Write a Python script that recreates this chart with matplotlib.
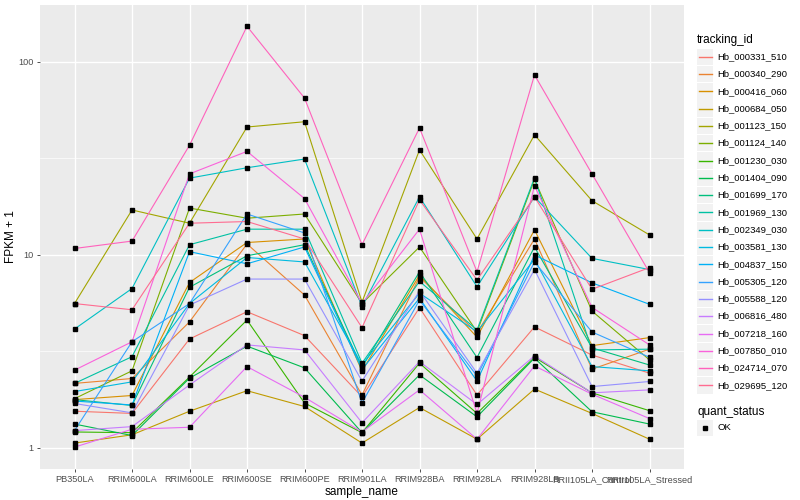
import matplotlib
matplotlib.use("Agg")
import matplotlib.pyplot as plt
from matplotlib.patches import Rectangle
from matplotlib.lines import Line2D

plt.rcParams['font.family'] = ['Liberation Sans', 'DejaVu Sans']

samples = ['PB350LA', 'RRIM600LA', 'RRIM600LE', 'RRIM600SE', 'RRIM600PE',
           'RRIM901LA', 'RRIM928BA', 'RRIM928LA', 'RRIM928LB',
           'RRII105LA_Control', 'RRII105LA_Stressed']

# FPKM + 1 per tracking id
hb_000331_510 = [1.55, 1.51, 3.67, 5.08, 3.82, 1.84, 5.33, 1.88, 4.24, 3.03, 2.44]
hb_000340_290 = [2.16, 2.29, 4.5, 11.4, 6.2, 1.88, 7.7, 3.94, 12.1, 2.56, 3.25]
hb_000416_060 = [1.78, 1.87, 7.2, 11.6, 12.1, 2.5, 7.87, 3.75, 13.5, 3.39, 3.73]
hb_000684_050 = [1.06, 1.17, 1.55, 1.98, 1.64, 1.06, 1.62, 1.11, 2.02, 1.51, 1.11]
hb_001123_150 = [5.6, 17.1, 14.6, 46.0, 49.0, 5.7, 35.0, 12.1, 41.9, 19.1, 12.7]
hb_001124_140 = [1.8, 2.51, 17.5, 15.5, 16.3, 5.6, 11.0, 4.0, 24.6, 5.12, 2.86]
hb_001230_030 = [1.21, 1.2, 2.33, 4.6, 1.71, 1.2, 2.75, 1.51, 2.95, 1.93, 1.56]
hb_001404_090 = [1.33, 1.16, 2.3, 3.37, 2.6, 1.2, 2.39, 1.45, 2.92, 1.54, 1.33]
hb_001699_170 = [1.78, 1.66, 6.8, 9.9, 11.3, 2.62, 8.18, 2.94, 11.0, 3.3, 2.69]
hb_001969_130 = [2.16, 2.97, 11.3, 13.6, 13.6, 2.75, 7.3, 4.09, 25.1, 3.22, 3.25]
hb_002349_030 = [4.13, 6.7, 25.0, 28.3, 31.4, 5.4, 20.0, 6.84, 20.0, 9.6, 8.4]
hb_003581_130 = [1.96, 2.2, 5.6, 9.7, 9.2, 2.7, 6.34, 4.0, 9.5, 2.64, 2.51]
hb_004837_150 = [1.75, 1.67, 10.4, 9.0, 11.0, 2.55, 5.97, 2.22, 10.0, 7.17, 5.55]
hb_005305_120 = [1.23, 3.55, 5.6, 16.3, 13.0, 1.71, 5.84, 2.36, 9.2, 3.99, 2.95]
hb_005588_120 = [1.7, 1.52, 5.5, 7.5, 7.5, 2.22, 6.5, 2.44, 8.4, 2.08, 2.21]
hb_006816_480 = [1.23, 1.29, 2.12, 3.42, 3.22, 1.35, 2.8, 1.68, 3.0, 1.93, 2.0]
hb_007218_160 = [1.01, 1.25, 1.28, 2.64, 1.83, 1.21, 2.0, 1.11, 2.66, 1.9, 1.42]
hb_007850_010 = [2.53, 3.55, 26.3, 34.4, 19.6, 5.6, 13.6, 1.51, 22.8, 5.35, 3.42]
hb_024714_070 = [10.8, 11.8, 37.0, 153.0, 65.0, 11.3, 45.5, 8.18, 85.6, 26.3, 8.1]
hb_029695_120 = [5.6, 5.2, 14.6, 14.9, 12.1, 4.2, 19.3, 7.42, 20.0, 6.64, 8.6]

tracking_ids = ['Hb_000331_510', 'Hb_000340_290', 'Hb_000416_060', 'Hb_000684_050',
                'Hb_001123_150', 'Hb_001124_140', 'Hb_001230_030', 'Hb_001404_090',
                'Hb_001699_170', 'Hb_001969_130', 'Hb_002349_030', 'Hb_003581_130',
                'Hb_004837_150', 'Hb_005305_120', 'Hb_005588_120', 'Hb_006816_480',
                'Hb_007218_160', 'Hb_007850_010', 'Hb_024714_070', 'Hb_029695_120']
series = [hb_000331_510, hb_000340_290, hb_000416_060, hb_000684_050,
          hb_001123_150, hb_001124_140, hb_001230_030, hb_001404_090,
          hb_001699_170, hb_001969_130, hb_002349_030, hb_003581_130,
          hb_004837_150, hb_005305_120, hb_005588_120, hb_006816_480,
          hb_007218_160, hb_007850_010, hb_024714_070, hb_029695_120]

# ggplot2 default hue palette for 20 levels
colors = ['#F8766D', '#EA8331', '#D89000', '#C09B00', '#A3A500', '#7CAE00',
          '#39B600', '#00BB4E', '#00BF7D', '#00C1A3', '#00BFC4', '#00BAE0',
          '#00B0F6', '#35A2FF', '#9590FF', '#C77CFF', '#E76BF3', '#FA62DB',
          '#FF62BC', '#FF6C91']

W, H = 800, 500
fig = plt.figure(figsize=(8, 5), dpi=100)
ax = fig.add_axes([40 / W, 1 - 469 / H, (684 - 40) / W, (469 - 5) / H])
ax.set_facecolor('#EBEBEB')

x = list(range(len(samples)))
for vals, col in zip(series, colors):
    ax.plot(x, vals, color=col, lw=0.8, zorder=3)
for vals in series:
    ax.plot(x, vals, ls='none', marker='s', ms=2.2, color='black', zorder=4)

ax.set_yscale('log')
ax.set_ylim(10 ** -0.109, 10 ** 2.295)
ax.set_xlim(-0.6, len(samples) - 0.4)
ax.set_yticks([1, 10, 100])
ax.set_yticklabels(['1', '10', '100'])
ax.set_yticks([10 ** 0.5, 10 ** 1.5], minor=True)
ax.set_yticklabels([], minor=True)
ax.set_xticks(x)
ax.set_xticklabels(samples)
ax.tick_params(axis='y', which='minor', length=0)
ax.tick_params(which='major', length=2.5, width=0.6, color='#333333',
               labelsize=6.6, labelcolor='#4D4D4D', pad=2)
ax.grid(which='major', color='white', lw=1.0, zorder=0)
ax.grid(which='minor', axis='y', color='white', lw=0.5, zorder=0)
ax.set_axisbelow(True)
for sp in ax.spines.values():
    sp.set_visible(False)

ax.set_xlabel('sample_name', fontsize=8.5, labelpad=1)
ax.set_ylabel('FPKM + 1', fontsize=8.5)
ax.yaxis.set_label_coords(-0.035, 0.5)

# legend drawn by hand in pixel coordinates to copy the ggplot guide
def fx(px):
    return px / W

def fy(py):
    return 1 - py / H

fig.text(fx(697), fy(40), 'tracking_id', fontsize=8.5, va='center', ha='left')
for i, (tid, col) in enumerate(zip(tracking_ids, colors)):
    yc = 56.7 + i * 17.3
    fig.add_artist(Rectangle((fx(697), fy(yc + 8.2)), 16 / W, 16.4 / H,
                             transform=fig.transFigure, facecolor='#F2F2F2',
                             edgecolor='none', zorder=1))
    fig.add_artist(Line2D([fx(698.5), fx(711.5)], [fy(yc), fy(yc)],
                          transform=fig.transFigure, color=col, lw=1.0,
                          zorder=5))
    fig.text(fx(717), fy(yc), tid, fontsize=6.8, va='center', ha='left')

fig.text(fx(697), fy(412), 'quant_status', fontsize=8.5, va='center', ha='left')
fig.add_artist(Rectangle((fx(697), fy(428 + 8.2)), 16 / W, 16.4 / H,
                         transform=fig.transFigure, facecolor='#F2F2F2',
                         edgecolor='none', zorder=1))
fig.add_artist(Line2D([fx(705)], [fy(428)], transform=fig.transFigure,
                      marker='s', ms=2.2, color='black', ls='none', zorder=5))
fig.text(fx(717), fy(428), 'OK', fontsize=6.8, va='center', ha='left')

fig.savefig('out.png', dpi=100)
